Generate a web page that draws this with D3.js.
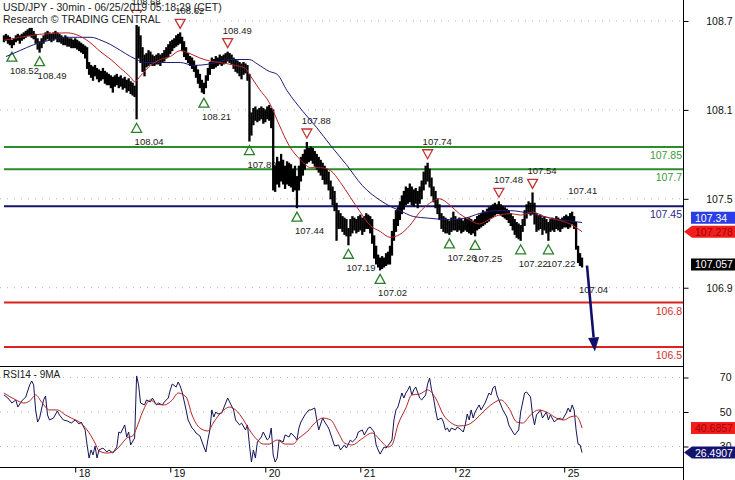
<!DOCTYPE html>
<html><head><meta charset="utf-8">
<script src="https://cdn.jsdelivr.net/npm/d3@7"></script>
<style>
html,body{margin:0;padding:0;background:#fff;}
svg{display:block;font-family:"Liberation Sans",Arial,sans-serif;}
</style></head><body>
<svg id="c" width="735" height="480"></svg>
<script>
// ---------------- DATA ----------------
const title = "USD/JPY - 30min - 06/25/2019 05:18:29 (CET)";
const subtitle = "Research \u00A9 TRADING CENTRAL";
const rsiTitle = "RSI14 - 9MA";
const dayTicks = [[36,"18"],[84,"19"],[132,"20"],[180,"21"],[228,"22"],[283,"25"]];
const priceTicks = [106.9,107.5,108.1,108.7];
const rsiTicks = [30,50,70];
const resistances = [107.85,107.7];
const pivots = [107.45];
const supports = [106.8,106.5];

// 30-min bars (high / low), bar index 0..292
const barHigh = [
108.60,108.61,108.60,108.59,108.57,108.58,108.60,108.61,108.60,108.61,
108.62,108.63,108.64,108.65,108.65,108.63,108.61,108.58,108.56,108.58,
108.60,108.62,108.63,108.62,108.61,108.62,108.63,108.62,108.61,108.60,
108.59,108.60,108.59,108.58,108.58,108.57,108.58,108.57,108.56,108.55,
108.54,108.53,108.52,108.42,108.40,108.39,108.40,108.38,108.37,108.36,
108.38,108.36,108.35,108.34,108.33,108.32,108.33,108.34,108.32,108.33,
108.31,108.32,108.30,108.31,108.29,108.28,108.26,108.68,108.66,108.60,
108.52,108.47,108.48,108.50,108.49,108.47,108.46,108.47,108.48,108.47,
108.48,108.50,108.52,108.54,108.56,108.57,108.58,108.60,108.61,108.62,
108.59,108.56,108.52,108.48,108.46,108.45,108.43,108.40,108.37,108.34,
108.30,108.28,108.33,108.38,108.42,108.45,108.44,108.46,108.45,108.47,
108.46,108.47,108.48,108.49,108.48,108.47,108.45,108.44,108.43,108.42,
108.41,108.42,108.41,108.40,108.34,108.08,108.11,108.12,108.10,108.11,
108.12,108.11,108.10,108.12,108.13,108.11,108.10,107.72,107.78,107.75,
107.80,107.76,107.72,107.75,107.74,107.73,107.70,107.72,107.65,107.72,
107.78,107.80,107.83,107.88,107.84,107.85,107.84,107.82,107.80,107.78,
107.76,107.74,107.72,107.70,107.68,107.62,107.58,107.55,107.47,107.42,
107.40,107.38,107.37,107.36,107.30,107.36,107.38,107.37,107.36,107.38,
107.39,107.37,107.38,107.40,107.39,107.38,107.36,107.25,107.18,107.12,
107.10,107.11,107.10,107.13,107.14,107.18,107.28,107.36,107.42,107.44,
107.48,107.52,107.55,107.58,107.57,107.60,107.58,107.56,107.57,107.55,
107.58,107.62,107.68,107.72,107.74,107.70,107.64,107.58,107.55,107.50,
107.46,107.40,107.38,107.37,107.36,107.35,107.37,107.41,107.38,107.36,
107.37,107.36,107.35,107.37,107.36,107.37,107.36,107.35,107.36,107.38,
107.39,107.40,107.42,107.41,107.43,107.44,107.45,107.46,107.47,107.46,
107.48,107.46,107.45,107.44,107.43,107.42,107.40,107.38,107.36,107.34,
107.33,107.32,107.36,107.42,107.46,107.48,107.47,107.54,107.47,107.40,
107.38,107.39,107.37,107.38,107.36,107.34,107.36,107.37,107.36,107.38,
107.37,107.36,107.37,107.38,107.39,107.38,107.40,107.41,107.38,107.34,
107.18,107.13,107.10];
const barLow = [
108.56,108.57,108.55,108.54,108.52,108.54,108.56,108.57,108.55,108.57,
108.58,108.59,108.60,108.60,108.59,108.58,108.55,108.51,108.49,108.52,
108.55,108.57,108.58,108.57,108.56,108.57,108.58,108.56,108.56,108.55,
108.54,108.54,108.53,108.53,108.52,108.52,108.52,108.51,108.50,108.49,
108.48,108.45,108.38,108.34,108.32,108.30,108.33,108.31,108.29,108.30,
108.31,108.28,108.27,108.27,108.25,108.22,108.26,108.27,108.25,108.26,
108.24,108.25,108.22,108.23,108.21,108.20,108.19,108.04,108.45,108.42,
108.36,108.33,108.39,108.40,108.41,108.40,108.40,108.41,108.41,108.40,
108.42,108.43,108.45,108.46,108.48,108.50,108.52,108.53,108.54,108.55,
108.50,108.46,108.44,108.42,108.40,108.38,108.36,108.32,108.28,108.25,
108.22,108.21,108.25,108.30,108.34,108.38,108.38,108.39,108.40,108.41,
108.40,108.41,108.42,108.43,108.42,108.41,108.38,108.36,108.35,108.33,
108.31,108.34,108.35,108.30,107.89,107.93,108.00,108.03,108.02,108.03,
108.04,108.01,108.02,108.04,108.03,107.98,107.56,107.55,107.60,107.58,
107.62,107.60,107.57,107.60,107.59,107.58,107.55,107.56,107.44,107.56,
107.62,107.66,107.70,107.74,107.75,107.76,107.74,107.72,107.70,107.68,
107.66,107.63,107.60,107.60,107.56,107.50,107.46,107.42,107.22,107.30,
107.30,107.28,107.26,107.25,107.19,107.25,107.27,107.29,107.27,107.28,
107.29,107.26,107.28,107.30,107.30,107.27,107.20,107.10,107.06,107.04,
107.02,107.03,107.04,107.05,107.06,107.06,107.12,107.22,107.28,107.32,
107.36,107.40,107.43,107.46,107.47,107.48,107.46,107.45,107.47,107.44,
107.47,107.50,107.56,107.60,107.62,107.58,107.52,107.48,107.44,107.40,
107.36,107.30,107.28,107.27,107.27,107.26,107.28,107.29,107.29,107.28,
107.29,107.27,107.28,107.29,107.28,107.27,107.26,107.27,107.25,107.29,
107.30,107.31,107.32,107.33,107.34,107.35,107.37,107.38,107.39,107.40,
107.40,107.39,107.38,107.37,107.36,107.34,107.32,107.29,107.26,107.24,
107.23,107.22,107.28,107.32,107.37,107.40,107.39,107.40,107.33,107.28,
107.29,107.30,107.26,107.29,107.27,107.22,107.28,107.29,107.28,107.30,
107.29,107.28,107.30,107.31,107.31,107.30,107.31,107.33,107.30,107.16,
107.07,107.05,107.04];
const lastClose = 107.057;

// moving averages [bar index, price]
const maFast = [[0,108.57],[8,108.59],[18,108.61],[32,108.62],[38,108.60],[43,108.56],[49,108.49],[54,108.44],[59,108.38],[64,108.32],[66,108.29],[69,108.33],[74,108.40],[79,108.44],[84,108.46],[89,108.50],[94,108.48],[99,108.45],[104,108.43],[109,108.42],[117,108.40],[122,108.38],[124,108.34],[129,108.24],[134,108.15],[139,108.00],[144,107.86],[150,107.76],[155,107.71],[160,107.71],[165,107.69],[170,107.61],[175,107.51],[180,107.41],[185,107.32],[190,107.28],[195,107.24],[200,107.26],[205,107.32],[210,107.41],[215,107.47],[220,107.50],[225,107.46],[230,107.40],[235,107.36],[240,107.33],[245,107.36],[250,107.39],[256,107.40],[261,107.39],[267,107.41],[273,107.38],[279,107.36],[286,107.33],[292,107.278]];
const maSlow = [[1,108.46],[8,108.50],[15,108.54],[23,108.57],[31,108.59],[38,108.59],[44,108.59],[49,108.57],[54,108.54],[59,108.50],[64,108.46],[67,108.44],[71,108.42],[79,108.42],[89,108.42],[96,108.40],[104,108.41],[114,108.44],[124,108.44],[128,108.41],[134,108.36],[138,108.34],[143,108.23],[151,108.09],[158,107.98],[165,107.86],[173,107.73],[181,107.59],[190,107.49],[195,107.45],[200,107.42],[207,107.38],[214,107.37],[225,107.36],[233,107.37],[240,107.40],[248,107.42],[256,107.42],[266,107.40],[276,107.37],[286,107.35],[292,107.34]];

// signals [bar index, value]
const lowSignals = [[4,108.52],[18,108.49],[67,108.04],[101,108.21],[124,107.89],[148,107.44],[174,107.19],[190,107.02],[225,107.26],[238,107.25],[261,107.22],[275,107.22]];
const highSignals = [[67,108.68],[89,108.62],[113,108.49],[153,107.88],[214,107.74],[250,107.48],[267,107.54]];
const pendingHigh = [[287,107.41]];
const pendingLow = [[292,107.04]];
const projection = [[294.5,107.05],[298.5,106.47]];

// RSI14 [bar index, value] and its 9MA
const rsi = [
[0,59.9],[2,58.1],[4,55.2],[6,57.0],[7,52.9],[9,56.4],[11,58.7],[13,65.7],[14,68.0],[15,65.7],
[16,51.2],[17,44.2],[18,46.5],[20,57.0],[21,59.3],[22,48.3],[23,45.4],[25,46.5],[27,50.6],[28,48.3],
[30,45.4],[32,44.8],[34,43.6],[36,45.4],[38,43.0],[39,44.2],[41,39.6],[42,30.9],[43,23.3],[44,28.0],
[45,25.1],[46,30.3],[47,23.3],[48,28.0],[50,29.1],[52,26.8],[53,28.0],[55,26.2],[57,29.7],[58,38.4],
[59,37.8],[61,42.5],[62,35.5],[63,38.4],[64,30.9],[66,34.9],[67,70.9],[68,65.7],[69,55.2],[71,54.1],
[72,57.0],[74,55.8],[75,58.1],[77,54.1],[78,55.2],[80,54.1],[81,55.8],[83,58.1],[84,62.8],[85,66.2],
[87,64.5],[88,67.4],[89,65.1],[90,61.6],[92,51.2],[93,45.4],[95,40.7],[96,39.6],[97,37.8],[99,36.1],
[101,29.7],[102,26.8],[103,33.8],[104,39.6],[105,51.2],[106,47.1],[107,50.0],[108,48.8],[110,49.4],[111,52.3],
[113,58.1],[114,55.8],[116,51.2],[117,45.4],[119,42.5],[120,43.6],[122,39.6],[123,42.5],[124,30.9],[125,21.0],
[126,28.0],[127,23.3],[128,32.6],[130,35.5],[131,38.4],[133,33.8],[134,34.9],[135,40.7],[136,25.1],[137,21.0],
[138,23.3],[139,33.8],[141,32.6],[142,36.7],[144,35.5],[145,37.8],[147,35.5],[148,33.8],[149,40.7],[150,44.2],
[152,48.3],[154,51.2],[155,51.2],[157,52.3],[158,45.4],[159,39.6],[161,46.5],[162,44.2],[164,40.7],[166,33.8],
[167,30.3],[169,30.9],[170,28.0],[172,30.9],[173,29.1],[175,33.8],[176,32.6],[178,34.9],[179,38.4],[181,39.6],
[182,36.7],[184,40.7],[185,41.3],[187,38.4],[188,30.9],[189,28.0],[190,25.6],[192,29.7],[193,29.1],[195,32.0],
[196,33.8],[197,45.4],[198,51.2],[199,52.9],[200,57.0],[201,61.0],[202,58.1],[203,61.0],[204,62.8],[205,65.1],
[206,59.9],[207,62.8],[208,64.5],[210,58.1],[211,57.0],[213,59.9],[214,66.2],[215,69.7],[216,62.8],[217,58.1],
[218,51.2],[219,45.4],[221,46.5],[222,44.2],[223,39.6],[224,40.7],[225,38.4],[226,40.7],[228,39.6],[229,41.3],
[231,39.6],[232,38.4],[233,42.5],[234,48.8],[235,45.4],[236,51.2],[237,46.5],[238,50.0],[240,54.1],[241,51.2],
[243,55.2],[244,58.1],[245,61.0],[246,59.9],[247,63.9],[248,65.1],[249,59.9],[250,57.0],[252,51.2],[254,47.1],
[255,42.5],[257,38.4],[258,36.7],[260,39.6],[261,50.0],[263,61.0],[264,61.6],[266,58.7],[267,48.3],[268,42.5],
[269,48.3],[271,51.2],[272,46.5],[274,50.0],[275,45.4],[276,48.3],[278,44.2],[279,45.4],[281,46.5],[282,45.4],
[284,49.4],[285,52.3],[286,50.0],[287,54.1],[288,51.2],[289,39.6],[290,31.4],[291,30.9],[292,26.4907]];
const rsiMA = [
[0,61.0],[6,57.0],[10,55.2],[13,56.4],[16,59.9],[19,55.8],[23,51.2],[27,51.2],[31,48.3],[34,46.5],
[38,44.2],[42,39.6],[46,32.0],[48,27.4],[52,26.2],[55,26.8],[59,30.9],[62,34.9],[65,36.1],[67,40.7],
[70,50.0],[74,57.0],[77,54.6],[81,54.1],[85,57.0],[88,61.0],[92,58.7],[95,48.3],[99,40.7],[103,39.0],
[106,44.2],[110,50.0],[114,52.9],[117,51.2],[121,45.4],[124,39.6],[128,33.8],[131,31.4],[134,31.4],[138,33.8],
[142,31.4],[146,31.4],[149,34.9],[153,38.4],[157,43.6],[161,46.5],[165,45.4],[169,37.8],[172,32.0],[176,30.9],
[180,33.8],[186,37.8],[190,33.8],[194,29.7],[196,30.9],[199,42.5],[203,52.3],[206,59.9],[210,60.4],[214,62.8],
[218,58.1],[222,48.3],[226,43.6],[230,41.9],[234,42.5],[238,45.4],[242,50.0],[246,54.1],[251,57.0],[255,52.3],
[259,44.2],[262,43.6],[266,48.3],[270,51.2],[275,49.4],[279,46.5],[283,45.4],[286,47.1],[289,47.7],[291,44.2],[292,40.6857]];

// ---------------- CHART ----------------
const svg = d3.select("#c");
const plotR = 683, mainBot = 366, rsiTop = 366, rsiBot = 467;
const FONT = '"Liberation Sans", Arial, sans-serif';
const xs = d3.scaleLinear().domain([-2, 343]).range([0, plotR]);
const yp = d3.scaleLinear().domain([106.5, 108.7]).range([347, 21]);
const yr = d3.scaleLinear().domain([30, 70]).range([446.5, 377.5]);

const C = {
  green: "#2a8c2a", greenTxt: "#3c9a3c", navy: "#15156e", red: "#dd2020",
  maRed: "#b42424", maNavy: "#1c1c78", grid: "#b0b0b0", text: "#1c1c1c",
  triGreen: "#2a7f2a", triRed: "#c43434"
};

const defs = svg.append("defs");
defs.append("clipPath").attr("id","clipMain").append("rect").attr("x",0).attr("y",0).attr("width",plotR).attr("height",mainBot);
defs.append("clipPath").attr("id","clipRsi").append("rect").attr("x",0).attr("y",rsiTop).attr("width",plotR).attr("height",rsiBot-rsiTop);

// grid
const grid = svg.append("g");
grid.selectAll("line.pg").data(priceTicks).join("line")
  .attr("x1",0).attr("x2",plotR).attr("y1",d=>yp(d)).attr("y2",d=>yp(d))
  .attr("stroke",C.grid).attr("stroke-dasharray","1,6");
grid.selectAll("line.rg").data(rsiTicks).join("line")
  .attr("x1",0).attr("x2",plotR).attr("y1",d=>yr(d)).attr("y2",d=>yr(d))
  .attr("stroke",C.grid).attr("stroke-dasharray","1,6");

// horizontal levels
const levels = [
  ...resistances.map(v=>({v, stroke:C.green, fill:C.greenTxt})),
  ...pivots.map(v=>({v, stroke:C.navy, fill:"#2a2a8a"})),
  ...supports.map(v=>({v, stroke:C.red, fill:"#d43030"}))
];
const lv = svg.append("g");
lv.selectAll("line").data(levels).join("line")
  .attr("x1",4).attr("x2",plotR).attr("y1",d=>yp(d.v)).attr("y2",d=>yp(d.v))
  .attr("stroke",d=>d.stroke).attr("stroke-width",2);
lv.selectAll("text").data(levels).join("text")
  .attr("x",plotR-1).attr("y",d=>yp(d.v)+12).attr("text-anchor","end")
  .attr("font-size",10.5).attr("fill",d=>d.fill).text(d=>String(d.v));

// signals (drawn below the bars)
const sg = svg.append("g").attr("clip-path","url(#clipMain)");
lowSignals.forEach(([i,v])=>{
  const cx = xs(i), cy = yp(v)+9;
  sg.append("path").attr("d",`M${cx-5},${cy+4.5}L${cx+5},${cy+4.5}L${cx},${cy-4.5}Z`)
    .attr("fill","none").attr("stroke",C.triGreen).attr("stroke-width",1.3);
  sg.append("text").attr("x",cx-2).attr("y",yp(v)+26.5).attr("font-size",9.5).attr("fill",C.text).text(v.toFixed(2));
});
highSignals.forEach(([i,v])=>{
  const cx = xs(i), cy = yp(v)-9;
  sg.append("path").attr("d",`M${cx-5},${cy-4.5}L${cx+5},${cy-4.5}L${cx},${cy+4.5}Z`)
    .attr("fill","none").attr("stroke",C.triRed).attr("stroke-width",1.3);
  sg.append("text").attr("x",cx-5).attr("y",yp(v)-18.5).attr("font-size",9.5).attr("fill",C.text).text(v.toFixed(2));
});
pendingHigh.forEach(([i,v])=>{
  sg.append("text").attr("x",xs(i)-4).attr("y",yp(v)-18.5).attr("font-size",9.5).attr("fill",C.text).text(v.toFixed(2));
});
pendingLow.forEach(([i,v])=>{
  sg.append("text").attr("x",xs(i)-3).attr("y",yp(v)+26.5).attr("font-size",9.5).attr("fill",C.text).text(v.toFixed(2));
});

// price bars
const bars = svg.append("g").attr("clip-path","url(#clipMain)");
bars.selectAll("line").data(barHigh).join("line")
  .attr("x1",(d,i)=>xs(i)).attr("x2",(d,i)=>xs(i))
  .attr("y1",d=>yp(d)-0.5).attr("y2",(d,i)=>yp(barLow[i])+0.5)
  .attr("stroke","#000").attr("stroke-width",2.3);

// moving averages
const maLine = d3.line().x(d=>xs(d[0])).y(d=>yp(d[1])).curve(d3.curveMonotoneX);
const mg = svg.append("g").attr("clip-path","url(#clipMain)");
mg.append("path").attr("d",maLine(maSlow)).attr("fill","none").attr("stroke",C.maNavy).attr("stroke-width",1);
mg.append("path").attr("d",maLine(maFast)).attr("fill","none").attr("stroke",C.maRed).attr("stroke-width",1);

// projection arrow
{
  const [a,b] = projection;
  const x1 = xs(a[0]), y1 = yp(a[1]), x2 = xs(b[0]), y2 = yp(b[1]);
  const L = Math.hypot(x2-x1,y2-y1), ux=(x2-x1)/L, uy=(y2-y1)/L;
  const bx = x2-ux*14, by = y2-uy*14;
  svg.append("line").attr("x1",x1).attr("y1",y1).attr("x2",bx).attr("y2",by)
    .attr("stroke","#10106a").attr("stroke-width",2.6);
  svg.append("path").attr("d",`M${x2},${y2}L${bx-uy*5.5},${by+ux*5.5}L${bx+uy*5.5},${by-ux*5.5}Z`)
    .attr("fill","#10106a");
}

// RSI panel
const rg = svg.append("g").attr("clip-path","url(#clipRsi)");
rg.append("path").attr("d",d3.line().x(d=>xs(d[0])).y(d=>yr(d[1]))(rsi))
  .attr("fill","none").attr("stroke","#14145a").attr("stroke-width",1);
rg.append("path").attr("d",d3.line().x(d=>xs(d[0])).y(d=>yr(d[1])).curve(d3.curveMonotoneX)(rsiMA))
  .attr("fill","none").attr("stroke",C.maRed).attr("stroke-width",1);
svg.append("text").attr("x",3).attr("y",378).attr("font-size",10).attr("fill",C.text).text(rsiTitle);

// titles
svg.append("text").attr("x",3).attr("y",11).attr("font-size",10.5).attr("fill",C.text).text(title);
const sub = svg.append("text").attr("x",3).attr("y",23).attr("font-size",10.5).attr("fill",C.text).text(subtitle);
const bb = sub.node().getBBox();
svg.insert("rect", () => sub.node()).attr("x",0).attr("y",bb.y).attr("width",bb.x+bb.width+2).attr("height",bb.height).attr("fill","#fff");

// frame
svg.append("line").attr("x1",plotR+0.5).attr("x2",plotR+0.5).attr("y1",0).attr("y2",480).attr("stroke","#000");
svg.append("line").attr("x1",0).attr("x2",plotR).attr("y1",mainBot+0.5).attr("y2",mainBot+0.5).attr("stroke","#000");
svg.append("line").attr("x1",0).attr("x2",plotR).attr("y1",rsiBot+0.5).attr("y2",rsiBot+0.5).attr("stroke","#000");

// axes
function styleAxis(g){
  g.select(".domain").remove();
  g.selectAll("text").attr("font-family",FONT).attr("font-size",10.5).attr("fill","#111");
  g.selectAll(".tick line").attr("stroke","#000");
}
const ay = svg.append("g").attr("transform",`translate(${plotR+0.5},0)`)
  .call(d3.axisRight(yp).tickValues(priceTicks).tickSize(5).tickFormat(d=>String(d)));
styleAxis(ay);
ay.selectAll("text").attr("x",49).attr("text-anchor","end");
const ar = svg.append("g").attr("transform",`translate(${plotR+0.5},0)`)
  .call(d3.axisRight(yr).tickValues(rsiTicks).tickSize(5).tickFormat(d=>String(d)));
styleAxis(ar);
ar.selectAll("text").attr("x",48).attr("text-anchor","end");
const ax = svg.append("g").attr("transform",`translate(0,${rsiBot+0.5})`)
  .call(d3.axisBottom(xs).tickValues(dayTicks.map(d=>d[0])).tickSize(5)
    .tickFormat(i=>dayTicks.find(d=>d[0]===i)[1]));
styleAxis(ax);
ax.selectAll("text").attr("text-anchor","start").attr("x",3).attr("y",2);

// last-value boxes
function boxes(items, scale){
  items.forEach(d=>d.y=scale(d.v));
  const sorted = items.slice().sort((a,b)=>b.y-a.y);
  for(let k=1;k<sorted.length;k++){
    if(sorted[k-1].y - sorted[k].y < 14) sorted[k].y = sorted[k-1].y - 14;
  }
  items.forEach(d=>{
    const h=6;
    const p = d.arrow
      ? `M${plotR+1},${d.y}L${plotR+9},${d.y-h}L735,${d.y-h}L735,${d.y+h}L${plotR+9},${d.y+h}Z`
      : `M691,${d.y-h}L735,${d.y-h}L735,${d.y+h}L691,${d.y+h}Z`;
    svg.append("path").attr("d",p).attr("fill",d.bg);
    svg.append("text").attr("x",695).attr("y",d.y+4).attr("font-size",10.5).attr("fill",d.fg).text(d.label);
  });
}
const lastFast = maFast[maFast.length-1][1], lastSlow = maSlow[maSlow.length-1][1];
boxes([
  {v:lastSlow, label:String(lastSlow), bg:"#2a3ee6", fg:"#fff", arrow:false},
  {v:lastFast, label:String(lastFast), bg:"#f21e1e", fg:"#a80000", arrow:true},
  {v:lastClose, label:String(lastClose), bg:"#000", fg:"#fff", arrow:false}
], yp);
const lastRsi = rsi[rsi.length-1][1], lastRsiMA = rsiMA[rsiMA.length-1][1];
boxes([
  {v:lastRsiMA, label:String(lastRsiMA), bg:"#f21e1e", fg:"#a80000", arrow:false},
  {v:lastRsi, label:String(lastRsi), bg:"#14146e", fg:"#fff", arrow:true}
], yr);
</script>
</body></html>
